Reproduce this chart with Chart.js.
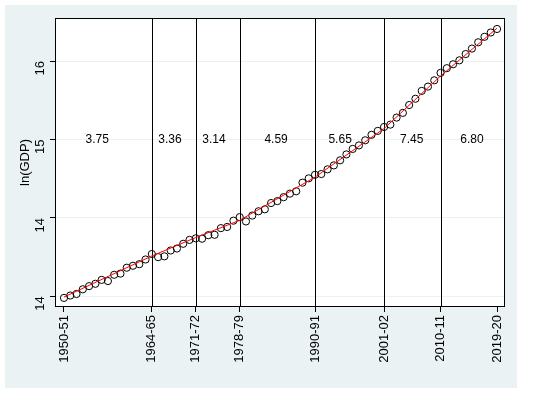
<!DOCTYPE html>
<html>
<head>
<meta charset="utf-8">
<script src="https://cdn.jsdelivr.net/npm/chart.js@4/dist/chart.umd.min.js"></script>
<style>
  html, body { margin: 0; padding: 0; background: #ffffff; }
  #wrap { width: 537px; height: 393px; }
</style>
</head>
<body>
<div id="wrap"><canvas id="c" width="537" height="393"></canvas></div>
<script>
// ---- data ----
const years = [1950,1951,1952,1953,1954,1955,1956,1957,1958,1959,
               1960,1961,1962,1963,1964,1965,1966,1967,1968,1969,
               1970,1971,1972,1973,1974,1975,1976,1977,1978,1979,
               1980,1981,1982,1983,1984,1985,1986,1987,1988,1989,
               1990,1991,1992,1993,1994,1995,1996,1997,1998,1999,
               2000,2001,2002,2003,2004,2005,2006,2007,2008,2009,
               2010,2011,2012,2013,2014,2015,2016,2017,2018,2019];
const lnGDP = [12.98,13.01,13.03,13.09,13.13,13.16,13.21,13.195,13.275,13.29,
               13.365,13.39,13.41,13.47,13.54,13.50,13.51,13.585,13.61,13.67,
               13.72,13.74,13.735,13.78,13.785,13.87,13.885,13.965,14.01,13.955,
               14.03,14.085,14.11,14.19,14.215,14.265,14.31,14.34,14.45,14.505,
               14.55,14.56,14.62,14.67,14.735,14.81,14.88,14.925,14.99,15.06,
               15.11,15.16,15.19,15.28,15.34,15.44,15.52,15.62,15.675,15.755,
               15.85,15.91,15.96,16.01,16.09,16.16,16.24,16.31,16.365,16.41];
// fitted (piecewise trend) values at the break years
const fitYears = [1950,1964,1971,1978,1990,2001,2010,2019];
const fitValues = [12.99,13.515,13.75,13.97,14.52,15.14,15.81,16.42];
// x tick labels (break years)
const xTickYears = [1950,1964,1971,1978,1990,2001,2010,2019];
const xTickLabels = ['1950-51','1964-65','1971-72','1978-79','1990-91','2001-02','2010-11','2019-20'];
const breakYears = [1964,1971,1978,1990,2001,2010];
// y ticks (labels as printed in the reference)
const yTickValues = [13,14,15,16];
const yTickLabels = ['14','14','15','16'];
// growth rate annotations
const growthRates = ['3.75','3.36','3.14','4.59','5.65','7.45','6.80'];
const growthLabelYears = [1955.3,1966.9,1973.9,1983.8,1994.0,2005.4,2015.0];
const growthLabelLevel = 15;

const FONT = "'Liberation Sans', Arial, Helvetica, sans-serif";

const bgPlugin = {
  id: 'bg',
  beforeDraw(chart) {
    const ctx = chart.ctx;
    ctx.save();
    ctx.fillStyle = '#ffffff';
    ctx.fillRect(0, 0, chart.width, chart.height);
    ctx.fillStyle = '#EAF2F3';
    ctx.fillRect(5, 5, 512, 383);
    const a = chart.chartArea;
    ctx.fillStyle = '#ffffff';
    ctx.fillRect(a.left, a.top, a.right - a.left, a.bottom - a.top);
    ctx.restore();
  },
  afterDraw(chart) {
    const ctx = chart.ctx, a = chart.chartArea;
    ctx.save();
    ctx.strokeStyle = '#000';
    ctx.lineWidth = 1;
    ctx.strokeRect(Math.round(a.left) + 0.5, Math.round(a.top) + 0.5,
                   Math.round(a.right - a.left) - 1, Math.round(a.bottom - a.top) - 1);
    ctx.restore();
  }
};

const breakLinesPlugin = {
  id: 'breaks',
  beforeDatasetsDraw(chart) {
    const ctx = chart.ctx, a = chart.chartArea;
    const xs = chart.scales.x, ys = chart.scales.y;
    ctx.save();
    ctx.strokeStyle = '#000';
    ctx.lineWidth = 1;
    breakYears.forEach(yr => {
      const px = Math.round(xs.getPixelForValue(yr)) + 0.5;
      ctx.beginPath();
      ctx.moveTo(px, a.top);
      ctx.lineTo(px, a.bottom);
      ctx.stroke();
    });
    ctx.fillStyle = '#000';
    ctx.font = '12px ' + FONT;
    ctx.textAlign = 'center';
    ctx.textBaseline = 'middle';
    growthRates.forEach((t, i) => {
      ctx.fillText(t, xs.getPixelForValue(growthLabelYears[i]), ys.getPixelForValue(growthLabelLevel));
    });
    ctx.restore();
  }
};

const scatterData = years.map((y, i) => ({ x: y, y: lnGDP[i] }));
const fitData = fitYears.map((y, i) => ({ x: y, y: fitValues[i] }));

new Chart(document.getElementById('c'), {
  type: 'scatter',
  data: {
    datasets: [
      {
        type: 'line',
        label: 'fit',
        data: fitData,
        borderColor: '#ff0000',
        borderWidth: 1,
        pointRadius: 0,
        fill: false,
        tension: 0
      },
      {
        label: 'ln(GDP)',
        data: scatterData,
        pointStyle: 'circle',
        pointRadius: 3.6,
        borderColor: '#000',
        borderWidth: 1,
        backgroundColor: 'rgba(0,0,0,0)'
      }
    ]
  },
  options: {
    responsive: false,
    animation: false,
    devicePixelRatio: 1,
    layout: { padding: { left: 18, right: 32, top: 18, bottom: 0 } },
    plugins: { legend: { display: false }, tooltip: { enabled: false } },
    scales: {
      x: {
        type: 'linear',
        min: 1948.57,
        max: 2020.27,
        afterBuildTicks(scale) { scale.ticks = xTickYears.map(v => ({ value: v })); },
        afterFit(scale) { scale.height = 86; },
        border: { display: false },
        grid: {
          drawOnChartArea: false,
          drawTicks: true,
          tickLength: 5,
          tickColor: '#000',
          color: '#000'
        },
        ticks: {
          autoSkip: false,
          minRotation: 90,
          maxRotation: 90,
          padding: 3,
          color: '#000',
          font: { family: FONT, size: 13 },
          callback: (v) => { const i = xTickYears.indexOf(v); return i >= 0 ? xTickLabels[i] : ''; }
        }
      },
      y: {
        type: 'linear',
        min: 12.864,
        max: 16.55,
        afterBuildTicks(scale) { scale.ticks = yTickValues.map(v => ({ value: v })); },
        afterFit(scale) { scale.width = 37; },
        border: { display: false },
        grid: {
          drawOnChartArea: true,
          drawTicks: true,
          tickLength: 5,
          color: '#EAF2F3',
          tickColor: '#000'
        },
        ticks: {
          autoSkip: false,
          minRotation: 90,
          maxRotation: 90,
          padding: 10,
          color: '#000',
          font: { family: FONT, size: 13 },
          callback: (v) => { const i = yTickValues.indexOf(v); return i >= 0 ? yTickLabels[i] : ''; }
        },
        title: {
          display: true,
          text: 'ln(GDP)',
          color: '#000',
          font: { family: FONT, size: 13 },
          padding: { top: 0, bottom: 0 }
        }
      }
    }
  },
  plugins: [bgPlugin, breakLinesPlugin]
});
</script>
</body>
</html>
